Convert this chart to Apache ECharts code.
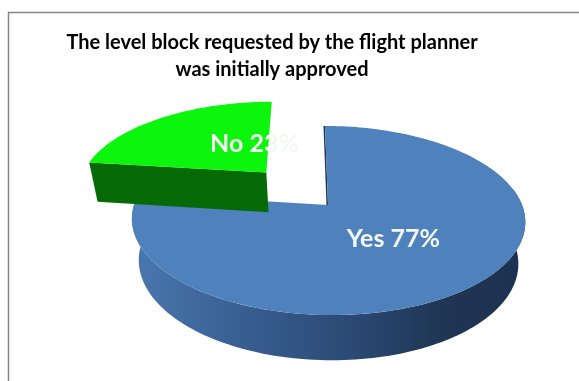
<!DOCTYPE html>
<html>
<head>
<meta charset="utf-8">
<style>html,body{margin:0;padding:0;background:#fff}#chart{width:579px;height:381px}</style>
<script src="https://cdn.jsdelivr.net/npm/echarts@6/dist/echarts.min.js"></script>
</head>
<body>
<div id="chart"></div>
<script>
const categories = ['Yes', 'No'];
const shares = [77, 23];
const topColors = ['#4f81bd', '#0cf50c'];
const chartTitle = 'The level block requested by the flight planner\nwas initially approved';

// Projection of the tilted disc
const CX = 328, CY = 205, RX = 194, RY = 92, TILT = 0.164, SHEAR = 0.038;
const FLOOR_SCALE = 0.965, THICKNESS = 41, EXPLODE = 0.5;
const STEPS_PER_TURN = 240;

function project(u, v, floor) {
  const w = 1 - TILT * v;
  const s = floor ? FLOOR_SCALE : 1;
  const py = s * RY * v / w;
  const x = CX + s * RX * u / w + SHEAR * py;
  const y = CY + py + (floor ? THICKNESS / w : 0);
  return [x, y];
}

function arcPoints(a0, a1, du, dv, floor) {
  const n = Math.max(2, Math.ceil((a1 - a0) / (2 * Math.PI) * STEPS_PER_TURN));
  const pts = [];
  for (let i = 0; i <= n; i++) {
    const a = a0 + (a1 - a0) * i / n;
    pts.push(project(du + Math.sin(a), dv - Math.cos(a), floor));
  }
  return pts;
}

const total = shares.reduce((a, b) => a + b, 0);
const sliceData = categories.map((name, i) => {
  const before = shares.slice(0, i).reduce((a, b) => a + b, 0);
  return { name, value: shares[i], start: before / total * 2 * Math.PI, end: (before + shares[i]) / total * 2 * Math.PI, color: topColors[i] };
});

const wallGradient = new echarts.graphic.LinearGradient(0, 0, 1, 0, [
  { offset: 0, color: '#4a78b0' },
  { offset: 0.3, color: '#375d8f' },
  { offset: 0.55, color: '#2b4a75' },
  { offset: 0.8, color: '#1f3553' },
  { offset: 1, color: '#1d3250' }
]);

function renderSlice(params, api) {
  const s = sliceData[params.dataIndex];
  const exploded = s.value < 50;
  const mid = (s.start + s.end) / 2;
  const du = exploded ? EXPLODE * Math.sin(mid) : 0;
  const dv = exploded ? -EXPLODE * Math.cos(mid) : 0;
  const apex = project(du, dv, false);
  const topArc = arcPoints(s.start, s.end, du, dv, false);
  const children = [];

  if (exploded) {
    // Flat dark walls facing the viewer along the slice's lower edge
    const rimLeft = topArc[0];
    const floorLeft = project(du + Math.sin(s.start), dv - Math.cos(s.start), true);
    const floorApex = project(du, dv, true);
    children.push({
      type: 'polygon',
      shape: { points: [rimLeft, apex, floorApex, floorLeft] },
      style: { fill: '#066a06' }
    });
  } else {
    // Curved outer wall along the front of the disc
    const front0 = Math.PI / 2 - 0.18, front1 = 3 * Math.PI / 2 + 0.18;
    const rim = arcPoints(front0, front1, 0, 0, false);
    const floor = arcPoints(front0, front1, 0, 0, true);
    children.push({
      type: 'polygon',
      shape: { points: rim.concat(floor.reverse()) },
      style: { fill: wallGradient }
    });
    // Thin inner wall visible inside the notch
    children.push({
      type: 'polygon',
      shape: { points: [topArc[0], apex, [apex[0] - 1.5, apex[1]], [topArc[0][0] - 1.5, topArc[0][1]]] },
      style: { fill: '#1f3553' }
    });
  }

  children.push({
    type: 'polygon',
    shape: { points: [apex].concat(topArc) },
    style: { fill: s.color }
  });

  // Text anchored on the slice's mid direction
  const textR = exploded ? 0.5 : 0.47;
  const labelPos = project(du + textR * Math.sin(mid) * (exploded ? 0.7 : 1) + (exploded ? 0.15 : 0),
                           dv - textR * Math.cos(mid) * (exploded ? 1 : 1), false);
  children.push({
    type: 'text',
    x: labelPos[0], y: labelPos[1],
    style: {
      text: s.name + ' ' + s.value + '%',
      fill: '#f4f8f4',
      font: 'bold 25px Lato, "Open Sans", sans-serif',
      align: 'center',
      verticalAlign: 'middle'
    }
  });
  return { type: 'group', children };
}

const chart = echarts.init(document.getElementById('chart'), null, { renderer: 'canvas' });
chart.setOption({
  animation: false,
  backgroundColor: '#ffffff',
  title: {
    text: chartTitle,
    left: 267,
    top: 24,
    textAlign: 'center',
    textStyle: { fontFamily: 'Lato', fontWeight: 'bold', fontSize: 20, lineHeight: 27, color: '#000000' }
  },
  graphic: [
    { type: 'line', shape: { x1: 8, y1: 12.5, x2: 579, y2: 12.5 }, style: { stroke: '#868686', lineWidth: 1.5 } },
    { type: 'line', shape: { x1: 8.5, y1: 12, x2: 8.5, y2: 381 }, style: { stroke: '#868686', lineWidth: 1.5 } }
  ],
  series: [{
    type: 'custom',
    coordinateSystem: 'none',
    renderItem: renderSlice,
    // The smaller, detached slice sits behind the disc
    data: sliceData.map(s => s.value),
    encode: {},
    z: 2
  }]
});
</script>
</body>
</html>
